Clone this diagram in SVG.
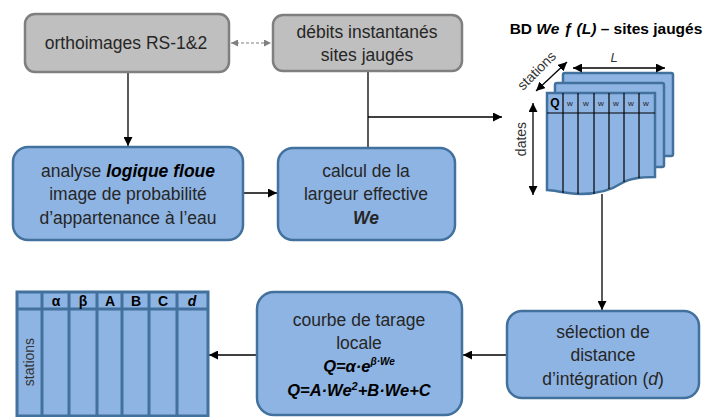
<svg xmlns="http://www.w3.org/2000/svg" width="712" height="417" viewBox="0 0 712 417">
<defs>
<style>
.gray{fill:#BFBFBF;stroke:#7F7F7F;stroke-width:2.5}
.blue{fill:#8EB4E3;stroke:#41719C;stroke-width:2.5}
.t{font-family:"Liberation Sans",Arial,sans-serif;font-size:17.5px;fill:#262626;text-anchor:middle}
.eq{font-family:"Liberation Sans",Arial,sans-serif;font-size:16.5px;font-weight:bold;font-style:italic;fill:#000;text-anchor:middle}
.ln{fill:none;stroke:#000;stroke-width:1.3}
.sh{fill:#8EB4E3;stroke:#41719C;stroke-width:2.5}
.col{stroke:#000;stroke-width:1.2}
.w{font-family:"Liberation Sans",Arial,sans-serif;font-size:8px;fill:#222;text-anchor:middle}
.hd{font-family:"Liberation Sans",Arial,sans-serif;font-size:14px;font-weight:bold;fill:#000;text-anchor:middle}
.lab{font-family:"Liberation Sans",Arial,sans-serif;font-size:14px;fill:#333;text-anchor:middle}
</style>
<marker id="ah" viewBox="0 0 10 10" refX="10" refY="5" markerWidth="9" markerHeight="9" markerUnits="userSpaceOnUse" orient="auto-start-reverse">
<path d="M0,0 L10,5 L0,10 z" fill="#000"/>
</marker>
<marker id="ahg" viewBox="0 0 10 10" refX="10" refY="5" markerWidth="7" markerHeight="7" markerUnits="userSpaceOnUse" orient="auto-start-reverse">
<path d="M0,0 L10,5 L0,10 z" fill="#808080"/>
</marker>
</defs>
<rect width="712" height="417" fill="#fff"/>

<g id="connectors">
<line x1="231" y1="43" x2="271" y2="43" stroke="#808080" stroke-width="1.2" stroke-dasharray="3,2" marker-start="url(#ahg)" marker-end="url(#ahg)"/>
<line class="ln" x1="128" y1="73" x2="128" y2="146" marker-end="url(#ah)"/>
<line class="ln" x1="368" y1="71" x2="368" y2="148"/>
<line class="ln" x1="368" y1="117" x2="502" y2="117" marker-end="url(#ah)"/>
<line class="ln" x1="243" y1="193" x2="277" y2="193" marker-end="url(#ah)"/>
<line class="ln" x1="602" y1="194" x2="602" y2="310" marker-end="url(#ah)"/>
<line class="ln" x1="507" y1="355" x2="463" y2="355" marker-end="url(#ah)"/>
<line class="ln" x1="257" y1="355" x2="209" y2="355" marker-end="url(#ah)"/>
</g>

<g id="orthoimages">
<rect class="gray" x="25" y="14" width="204" height="58" rx="10"/>
<text class="t" x="126" y="49">orthoimages  RS-1&amp;2</text>
</g>

<g id="debits">
<rect class="gray" x="273" y="15" width="189" height="56" rx="10"/>
<text class="t" x="367" y="38">débits instantanés</text>
<text class="t" x="367" y="61">sites jaugés</text>
</g>

<g id="analyse">
<rect class="blue" x="13" y="147" width="230" height="93" rx="15"/>
<text class="t" x="128" y="177">analyse <tspan font-weight="bold" font-style="italic" fill="#000">logique floue</tspan></text>
<text class="t" x="128" y="200">image de probabilité</text>
<text class="t" x="128" y="224">d’appartenance à l’eau</text>
</g>

<g id="calcul">
<rect class="blue" x="278" y="148" width="177" height="92" rx="15"/>
<text class="t" x="366" y="177">calcul de la</text>
<text class="t" x="366" y="200">largeur effective</text>
<text class="t" x="366" y="224" font-weight="bold" font-style="italic" fill="#000">We</text>
</g>

<g id="bd">
<text x="606" y="34" font-family="'Liberation Sans',Arial,sans-serif" font-size="15.5" font-weight="bold" fill="#000" text-anchor="middle">BD <tspan font-style="italic">We ƒ (L)</tspan> – sites jaugés</text>
<rect class="sh" x="563" y="73" width="110" height="83" rx="2"/>
<rect class="sh" x="555" y="83" width="109" height="84" rx="2"/>
<path class="sh" d="M547,93 L655,93 L655,177 C640,177 630,178 622,183 C610,191 596,194 580,194 C565,194 555,190 547,190 Z"/>
<line class="col" x1="547" y1="113" x2="655" y2="113"/>
<line class="col" x1="563" y1="93" x2="563" y2="193"/>
<line class="col" x1="578" y1="93" x2="578" y2="194"/>
<line class="col" x1="594" y1="93" x2="594" y2="194"/>
<line class="col" x1="609" y1="93" x2="609" y2="189"/>
<line class="col" x1="624" y1="93" x2="624" y2="182"/>
<line class="col" x1="639" y1="93" x2="639" y2="178"/>
<text x="555" y="107" font-family="'Liberation Sans',Arial,sans-serif" font-size="12" font-weight="bold" fill="#000" text-anchor="middle">Q</text>
<text class="w" x="570" y="106">w</text>
<text class="w" x="586" y="106">w</text>
<text class="w" x="601" y="106">w</text>
<text class="w" x="616" y="106">w</text>
<text class="w" x="631" y="106">w</text>
<text class="w" x="646" y="106">w</text>
<line class="ln" x1="573" y1="68" x2="665" y2="68" marker-start="url(#ah)" marker-end="url(#ah)"/>
<text x="614" y="62" font-family="'Liberation Sans',Arial,sans-serif" font-size="13" font-style="italic" fill="#333" text-anchor="middle">L</text>
<line class="ln" x1="567" y1="62" x2="536" y2="91" marker-start="url(#ah)" marker-end="url(#ah)"/>
<text class="lab" transform="translate(540,74) rotate(-45)" font-size="13">stations</text>
<line class="ln" x1="533" y1="103" x2="533" y2="195" marker-start="url(#ah)" marker-end="url(#ah)"/>
<text class="lab" transform="translate(526,139) rotate(-90)" font-size="13">dates</text>
</g>

<g id="selection">
<rect class="blue" x="507" y="311" width="192" height="87" rx="15"/>
<text class="t" x="603" y="338">sélection de</text>
<text class="t" x="603" y="361">distance</text>
<text class="t" x="603" y="385">d’intégration (<tspan font-style="italic">d</tspan>)</text>
</g>

<g id="courbe">
<rect class="blue" x="257" y="292" width="205" height="123" rx="17"/>
<text class="t" x="359" y="326">courbe de tarage</text>
<text class="t" x="359" y="349">locale</text>
<text class="eq" x="359" y="372">Q=α·e<tspan font-size="10" dy="-7">β·We</tspan></text>
<text class="eq" x="359" y="396">Q=A·We<tspan font-size="11" dy="-6">2</tspan><tspan dy="6">+B·We+C</tspan></text>
</g>

<g id="table">
<rect x="17" y="292" width="191" height="124" fill="#8EB4E3" stroke="#41719C" stroke-width="3"/>
<g stroke="#41719C" stroke-width="3">
<line x1="17" y1="309" x2="208" y2="309"/>
<line x1="42" y1="292" x2="42" y2="416"/>
<line x1="69" y1="292" x2="69" y2="416"/>
<line x1="97" y1="292" x2="97" y2="416"/>
<line x1="122" y1="292" x2="122" y2="416"/>
<line x1="149" y1="292" x2="149" y2="416"/>
<line x1="177" y1="292" x2="177" y2="416"/>
</g>
<text class="hd" x="56" y="306">α</text>
<text class="hd" x="83" y="306">β</text>
<text class="hd" x="110" y="306">A</text>
<text class="hd" x="136" y="306">B</text>
<text class="hd" x="163" y="306">C</text>
<text class="hd" x="192" y="306" font-style="italic">d</text>
<text class="lab" transform="translate(34,362) rotate(-90)">stations</text>
</g>
</svg>
